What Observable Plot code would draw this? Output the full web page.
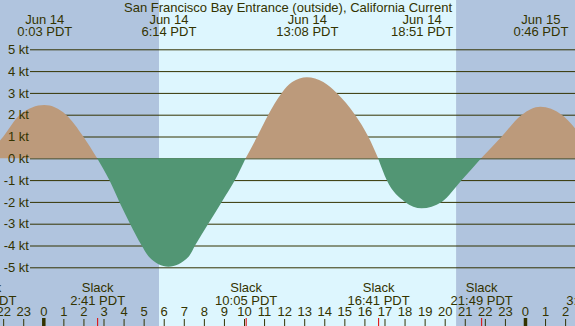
<!DOCTYPE html>
<html><head><meta charset="utf-8">
<script src="https://cdn.jsdelivr.net/npm/d3@7"></script>
<script src="https://cdn.jsdelivr.net/npm/@observablehq/plot@0.6"></script>
<style>html,body{margin:0;padding:0;background:#fff} #chart svg{display:block}</style>
</head><body><div id="chart"></div>
<script>
// ---- data ----
const title = "San Francisco Bay Entrance (outside), California Current";
// current speed readings: hours since Jun 14 00:00 PDT, knots (+ flood / - ebb)
const curveHours = [-2.917, -1.99, -1.16, 0.05, 1.13, 1.99, 2.683,
  3.29, 3.79, 4.32, 4.90, 5.25, 6.233, 7.25, 7.56, 8.22, 8.89, 9.55, 10.083,
  10.66, 11.21, 11.88, 12.4, 13.133, 13.95, 14.62, 15.53, 16.19, 16.683,
  17.11, 18.02, 18.85, 19.85, 20.85, 21.817,
  22.84, 23.84, 24.767, 25.83, 26.49, 27.4];
const curveKnots = [0, 1.0, 2.0, 2.44, 2.0, 1.0, 0,
  -1, -2, -3, -4, -4.5, -4.97, -4.5, -4, -3, -2, -1, 0,
  1, 2, 3, 3.5, 3.72, 3.5, 3, 2, 1, 0,
  -1, -2, -2.29, -2, -1, 0,
  1, 2, 2.37, 2, 1.38, 0];
const maxDays  = ["Jun 14", "Jun 14", "Jun 14", "Jun 14", "Jun 15"];
const maxTimes = ["0:03 PDT", "6:14 PDT", "13:08 PDT", "18:51 PDT", "0:46 PDT"];
const maxHours = [0.05, 6.233, 13.133, 18.85, 24.767];
const slackTimes = ["21:05 PDT", "2:41 PDT", "10:05 PDT", "16:41 PDT", "21:49 PDT", "3:24 PDT"];
const slackHours = [-2.917, 2.683, 10.083, 16.683, 21.817, 27.4];
const ktTicks = [5, 4, 3, 2, 1, 0, -1, -2, -3, -4, -5];
const hourTicks = [-2, -1, 0, 1, 2, 3, 4, 5, 6, 7, 8, 9, 10, 11, 12, 13, 14, 15, 16, 17, 18, 19, 20, 21, 22, 23, 24, 25, 26];
const bandStart = [-4, 5.767, 20.567];
const bandEnd   = [5.767, 20.567, 30];
const bandKind  = ["night", "day", "night"];

// ---- layout ----
const W = 575, H = 326;
const pxPerHour = 20.07, zeroX = 43.3;
const pxPerKt = 21.8, zeroY = 158.3;
const xDomain = [-zeroX / pxPerHour, (W - zeroX) / pxPerHour];
const yDomain = [-(H - zeroY) / pxPerKt, zeroY / pxPerKt];
const gridX0 = xDomain[0] + 30 / pxPerHour;
const ink = "#333300";

// ---- tables built from the arrays ----
const bands = bandKind.map((k, i) => ({start: bandStart[i], end: bandEnd[i], kind: k}));
const segData = [];
{
  let seg = 0, cur = [];
  const flush = () => {
    if (cur.length < 2) return;
    const ext = cur.reduce((a, p) => Math.abs(p.v) > Math.abs(a) ? p.v : a, 0);
    const kind = ext >= 0 ? "flood" : "ebb";
    cur.forEach(p => segData.push({h: p.h, v: p.v, seg, kind}));
    seg++;
  };
  curveHours.forEach((h, i) => {
    const p = {h, v: curveKnots[i]};
    cur.push(p);
    if (p.v === 0 && cur.length > 1) { flush(); cur = [p]; }
  });
  flush();
}
const maxEvents = maxHours.map((h, i) => ({h, day: maxDays[i], time: maxTimes[i]}));
const slackEvents = slackHours.map((h, i) => ({h, time: slackTimes[i]}));
const hourLabel = h => String(((h % 24) + 24) % 24);
const isMidnight = h => ((h % 24) + 24) % 24 === 0;
const txt = {fill: ink, lineAnchor: "middle"};

const chart = Plot.plot({
  width: W, height: H, margin: 0,
  x: {domain: xDomain, axis: null},
  y: {domain: yDomain, axis: null},
  color: {domain: ["night", "day", "flood", "ebb"], range: ["#B0C4DE", "#DDF6FE", "#BC9A7B", "#529674"]},
  style: {fontFamily: "'Liberation Sans', Arial, sans-serif", fontSize: "13px", color: ink, background: "transparent"},
  marks: [
    Plot.rect(bands, {x1: "start", x2: "end", fill: "kind"}),
    Plot.ruleY(ktTicks, {y: d => d, x1: gridX0, x2: xDomain[1], stroke: ink, strokeWidth: 1}),
    Plot.areaY(segData, {x: "h", y1: 0, y2: "v", z: "seg", fill: "kind", curve: "monotone-x"}),
    Plot.text(ktTicks, {y: d => d, text: d => `${d} kt`, frameAnchor: "left", dx: 28.5, textAnchor: "end", ...txt}),
    Plot.text([title], {text: d => d, frameAnchor: "top", dy: 7.5, ...txt}),
    Plot.text(maxEvents, {x: "h", text: "day", frameAnchor: "top", dy: 19.5, ...txt}),
    Plot.text(maxEvents, {x: "h", text: "time", frameAnchor: "top", dy: 31.8, ...txt}),
    Plot.text(slackEvents, {x: "h", text: () => "Slack", frameAnchor: "bottom", dy: -38.5, ...txt}),
    Plot.text(slackEvents, {x: "h", text: "time", frameAnchor: "bottom", dy: -26, ...txt}),
    Plot.text(hourTicks, {x: d => d, text: hourLabel, frameAnchor: "bottom", dy: -14.3, ...txt}),
    Plot.tickX(hourTicks.filter(h => !isMidnight(h)), {x: d => d, insetTop: 319, stroke: ink, strokeWidth: 1}),
    Plot.tickX(hourTicks.filter(isMidnight), {x: d => d, insetTop: 318, stroke: ink, strokeWidth: 3.5}),
    Plot.tickX(slackHours, {x: d => d, insetTop: 318, stroke: "#E00000", strokeWidth: 1})
  ]
});
document.getElementById("chart").appendChild(chart);
</script>
</body></html>
